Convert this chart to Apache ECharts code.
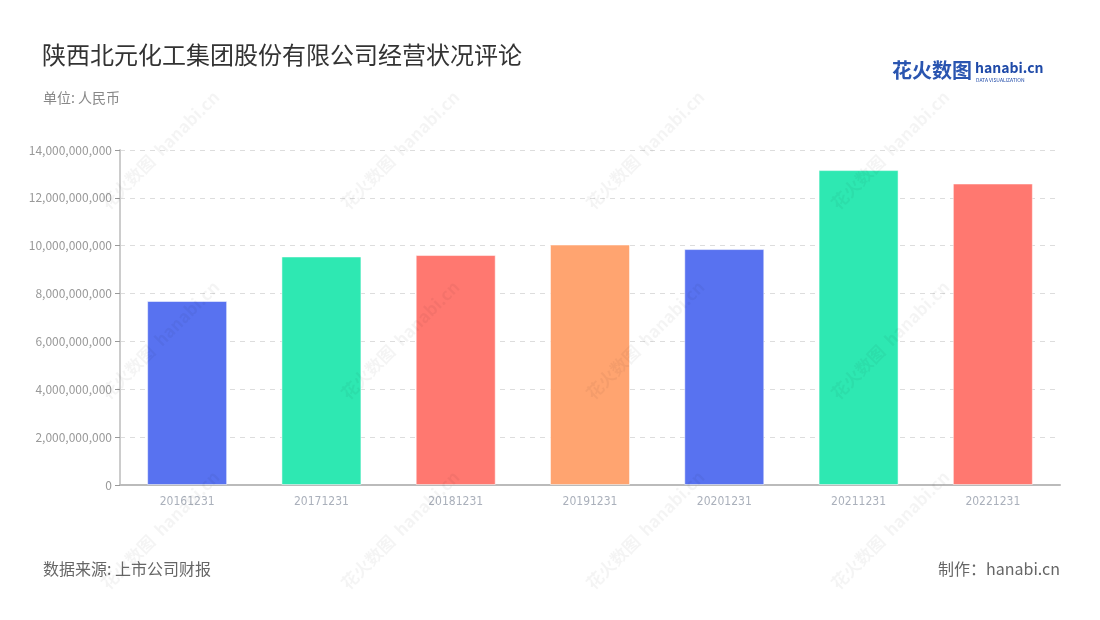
<!DOCTYPE html>
<html><head><meta charset="utf-8">
<script src="https://cdn.jsdelivr.net/npm/echarts@6/dist/echarts.min.js"></script>
<style>html,body{margin:0;padding:0;background:#fff}#c{width:1100px;height:620px}</style>
</head><body><div id="c"></div>
<script>
const categories = ['20161231','20171231','20181231','20191231','20201231','20211231','20221231'];
const values = [7690000000, 9550000000, 9610000000, 10050000000, 9860000000, 13160000000, 12600000000];
const palette = ['#5872F0', '#2EE8B2', '#FF7870', '#FFA470'];
const yMax = 14000000000;
const yInterval = 2000000000;

const font = '"Noto Sans CJK SC", "Noto Sans", sans-serif';
const chart = echarts.init(document.getElementById('c'), null, {renderer: 'canvas'});

const watermarks = [];
const wmPos = [[400,150],[645,150],[890,150],[160,340],[400,340],[645,340],[890,340],[160,530],[400,530],[645,530],[890,530],[160,150]];
wmPos.forEach(p => {
  watermarks.push({
    type: 'text', x: p[0], y: p[1], rotation: Math.PI/4, z: 100, silent: true,
    style: {text: '花火数图  hanabi.cn', fill: 'rgba(0,0,0,0.045)', font: 'bold 17px ' + font, align: 'center', verticalAlign: 'middle'}
  });
});

chart.setOption({
  backgroundColor: '#fff',
  title: [
    {text: '陕西北元化工集团股份有限公司经营状况评论', left: 37, top: 38,
     textStyle: {fontFamily: font, fontSize: 24, fontWeight: 'normal', color: '#333'}},
    {text: '单位: 人民币', left: 38, top: 86, textStyle: {fontFamily: font, fontSize: 14, fontWeight: 'normal', color: '#888'}},
    {text: '数据来源: 上市公司财报', left: 38, top: 556, textStyle: {fontFamily: font, fontSize: 16, fontWeight: 'normal', color: '#666'}},
    {text: '制作：hanabi.cn', right: 35, top: 556, textStyle: {fontFamily: font, fontSize: 16, fontWeight: 'normal', color: '#666'}}
  ],
  graphic: watermarks.concat([
    {type: 'text', left: 892, top: 60, style: {text: '花火数图', fill: '#2a55b0', font: 'bold 20px ' + font}},
    {type: 'text', left: 975, top: 61, style: {text: 'hanabi.cn', fill: '#1f4aa8', font: 'bold 14px ' + font}},
    {type: 'text', left: 976, top: 78, style: {text: 'DATA VISUALIZATION', fill: '#1f4aa8', font: '5px ' + font}}
  ]),
  grid: {left: 120, right: 40, top: 150, bottom: 135},
  xAxis: {
    type: 'category', data: categories,
    axisLine: {lineStyle: {color: '#bbb', width: 2}},
    axisTick: {alignWithLabel: true, lineStyle: {color: '#999'}},
    axisLabel: {color: '#aab0bb', fontSize: 12, fontFamily: '"Liberation Sans Narrow", "DejaVu Sans Condensed", sans-serif', margin: 11}
  },
  yAxis: {
    type: 'value', min: 0, max: yMax, interval: yInterval,
    axisLine: {show: true, lineStyle: {color: '#ccc', width: 2}},
    axisTick: {show: true, lineStyle: {color: '#999'}},
    axisLabel: {color: '#999', fontSize: 12, fontFamily: font,
      formatter: v => v.toLocaleString('en-US')},
    splitLine: {lineStyle: {color: '#ddd', type: [5, 5]}}
  },
  series: [{
    type: 'bar', barWidth: 80,
    data: values.map((v, i) => ({value: v, itemStyle: {color: palette[i % palette.length]}})),
    itemStyle: {borderWidth: 1, borderColor: 'rgba(255,255,255,0.5)'}
  }]
});
</script></body></html>
